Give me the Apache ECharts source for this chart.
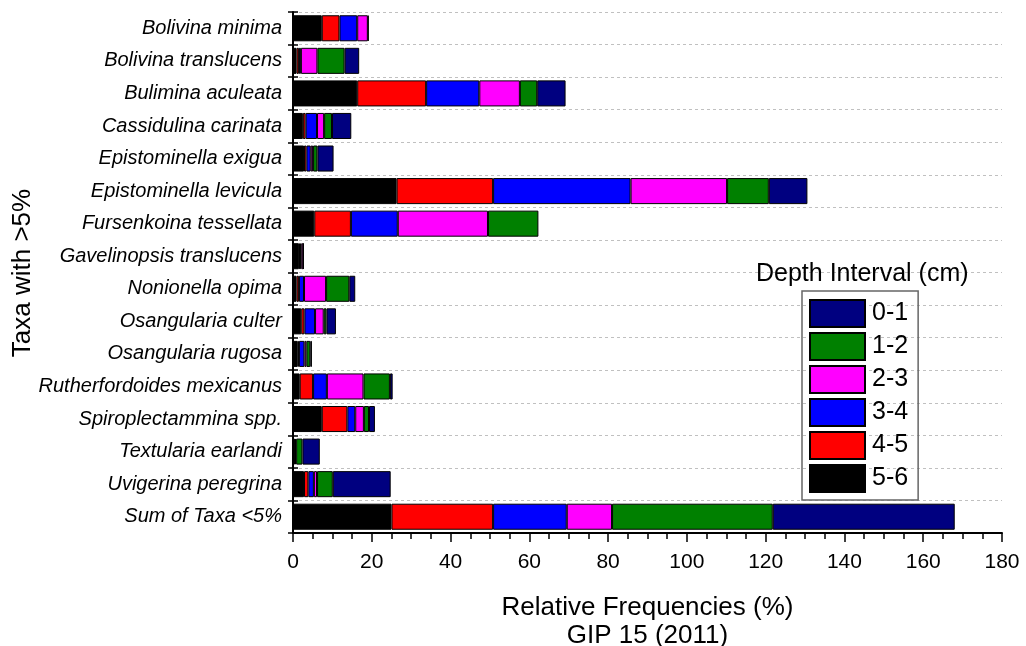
<!DOCTYPE html>
<html>
<head>
<meta charset="utf-8">
<script src="https://cdn.jsdelivr.net/npm/echarts@6/dist/echarts.min.js"></script>
<style>
  html, body { margin: 0; padding: 0; background: #fff; }
  #chart { width: 1026px; height: 646px; }
</style>
</head>
<body>
<div id="chart"></div>
<script>
// taxa, top to bottom
var taxa = [
  'Bolivina minima', 'Bolivina translucens', 'Bulimina aculeata', 'Cassidulina carinata',
  'Epistominella exigua', 'Epistominella levicula', 'Fursenkoina tessellata',
  'Gavelinopsis translucens', 'Nonionella opima', 'Osangularia culter', 'Osangularia rugosa',
  'Rutherfordoides mexicanus', 'Spiroplectammina spp.', 'Textularia earlandi',
  'Uvigerina peregrina', 'Sum of Taxa <5%'
];

// relative frequencies (%) per depth interval
var d56 = [7.3, 0.9, 16.3, 2.5, 2.8, 26.3, 5.4, 1.5, 0.9, 2.1, 1.2, 1.7, 7.3, 0.5, 2.8, 25.0];
var d45 = [4.5, 0.6, 17.5, 0.7, 0.6, 24.5, 9.3, 0.3, 0.6, 0.8, 0.3, 3.4, 6.5, 0.3, 1.1, 25.8];
var d34 = [4.5, 0.5, 13.5, 2.9, 1.1, 34.9, 11.9, 0.3, 1.3, 2.7, 1.4, 3.5, 2.0, 0, 1.4, 18.7];
var d23 = [2.7, 4.2, 10.3, 1.8, 0.6, 24.5, 22.9, 0.5, 5.6, 2.2, 0.5, 9.3, 2.2, 0, 0.8, 11.5];
var d12 = [0, 6.9, 4.4, 2.0, 1.1, 10.6, 12.8, 0, 5.9, 0.7, 1.0, 6.7, 1.3, 1.6, 4.0, 40.8];
var d01 = [0.2, 3.7, 7.2, 4.9, 4.1, 9.8, 0, 0.1, 1.5, 2.4, 0.4, 0.7, 1.5, 4.4, 14.7, 46.2];

var intervals = ['5-6', '4-5', '3-4', '2-3', '1-2', '0-1'];
var colors = ['#000000', '#ff0000', '#0000ff', '#ff00ff', '#008000', '#000080'];
var seriesData = [d56, d45, d34, d23, d12, d01];

var FONT = 'Liberation Sans, Arial, sans-serif';

var chart = echarts.init(document.getElementById('chart'));

var series = intervals.map(function (name, i) {
  return {
    name: name,
    type: 'bar',
    stack: 'depth',
    barCategoryGap: '20%',
    itemStyle: { color: colors[i], borderColor: '#000', borderWidth: 1 },
    data: seriesData[i].map(function (v) { return v === 0 ? '-' : v; })
  };
});

var option = {
  animation: false,
  title: {
    text: 'Depth Interval (cm)',
    left: 756,
    top: 262,
    padding: 0,
    textStyle: { fontFamily: FONT, fontSize: 25, fontWeight: 'normal', color: '#000' }
  },
  legend: {
    orient: 'vertical',
    left: 802,
    top: 291,
    padding: [8, 10, 7, 7],
    icon: 'rect',
    itemWidth: 55,
    itemHeight: 27,
    itemGap: 4,
    borderColor: '#666',
    borderWidth: 1.5,
    data: ['0-1', '1-2', '2-3', '3-4', '4-5', '5-6'],
    textStyle: { fontFamily: FONT, fontSize: 25, lineHeight: 27, color: '#000', padding: [0, 0, 0, 2] }
  },
  grid: { left: 293, right: 24, top: 12, bottom: 113, outerBoundsMode: 'none' },
  xAxis: {
    type: 'value',
    min: 0,
    max: 180,
    interval: 20,
    name: 'Relative Frequencies (%)\nGIP 15 (2011)',
    nameLocation: 'middle',
    nameGap: 61,
    nameTextStyle: { fontFamily: FONT, fontSize: 26, color: '#000', lineHeight: 28, verticalAlign: 'top' },
    axisLine: { show: true, lineStyle: { color: '#000', width: 2 } },
    axisTick: { show: true, length: 9, lineStyle: { color: '#000', width: 1.5 } },
    minorTick: { show: true, splitNumber: 4, length: 6, lineStyle: { color: '#000', width: 1.5 } },
    axisLabel: { fontFamily: FONT, fontSize: 21, color: '#000', margin: 19 },
    splitLine: { show: false }
  },
  yAxis: [{
    type: 'category',
    inverse: true,
    data: taxa,
    axisLine: { show: true, lineStyle: { color: '#000', width: 2 } },
    axisTick: { show: true, length: 5, lineStyle: { color: '#000', width: 1.5 } },
    axisLabel: { fontFamily: FONT, fontSize: 20, fontStyle: 'italic', color: '#000', margin: 11 },
    splitLine: { show: true, lineStyle: { color: '#c0c0c0', type: [3, 3], width: 1 } }
  }, {
    // inner half of the crossing ticks
    type: 'category',
    inverse: true,
    position: 'left',
    data: taxa,
    axisLine: { show: false },
    axisTick: { show: true, inside: true, length: 5, lineStyle: { color: '#000', width: 1.5 } },
    axisLabel: { show: false },
    splitLine: { show: false }
  }],
  graphic: [{
    type: 'text',
    x: 23,
    y: 273,
    rotation: Math.PI / 2,
    style: {
      text: 'Taxa with >5%',
      fontFamily: FONT,
      fontSize: 26,
      fill: '#000',
      textAlign: 'center',
      textVerticalAlign: 'middle'
    }
  }],
  series: series
};

chart.setOption(option);
</script>
</body>
</html>
